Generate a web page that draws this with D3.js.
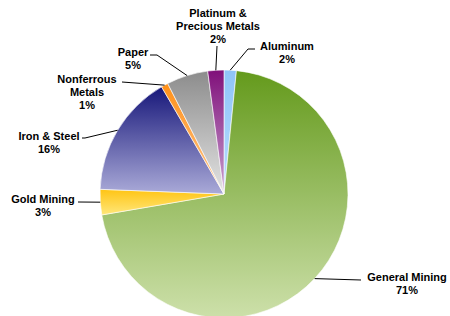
<!DOCTYPE html>
<html>
<head>
<meta charset="utf-8">
<script src="https://cdn.jsdelivr.net/npm/d3@7"></script>
<style>
  body { margin: 0; background: #fff; }
  svg text { font-family: "Liberation Sans", Arial, sans-serif; font-weight: bold; font-size: 11px; fill: #000; }
</style>
</head>
<body>
<div id="chart"></div>
<script>
// data, clockwise from 12 o'clock
const categories = ["Aluminum", "General Mining", "Gold Mining", "Iron & Steel", "Nonferrous Metals", "Paper", "Platinum & Precious Metals"];
const shares = [1.6, 70.7, 3.3, 16.0, 0.9, 5.4, 2.1];
const labelLines = [["Aluminum"], ["General Mining"], ["Gold Mining"], ["Iron & Steel"], ["Nonferrous", "Metals"], ["Paper"], ["Platinum &", "Precious Metals"]];

// gradient top / bottom colours per slice
const topColors = ["#8fc4f8", "#649a1c", "#ffc414", "#17177a", "#ff9018", "#8c8c8c", "#80107a"];
const bottomColors = ["#b8dcff", "#cde0aa", "#ffe77a", "#aaaad8", "#ffc890", "#e4e4e4", "#c8a0d0"];

// label layout: centre x, first baseline, leader end
const labelLayout = [
    { x: 287, y: 50, lx: 248, ly: 49, hx: 255 },
    { x: 407, y: 281, lx: 361, ly: 280 },
    { x: 43, y: 203, lx: 78, ly: 202 },
    { x: 49, y: 140, lx: 85, ly: 138, hx: 82 },
    { x: 87, y: 83, lx: 122, ly: 82 },
    { x: 133, y: 56, lx: 157, ly: 55, hx: 150 },
    { x: 218, y: 17, lx: 217, ly: 46 }
];

const width = 450;
const height = 316;
const cx = 224, cy = 194, radius = 124;
const lineH = 13;

const svg = d3.select("#chart")
    .append("svg")
    .attr("width", width)
    .attr("height", height);

const defs = svg.append("defs");
categories.forEach((c, i) => {
    const g = defs.append("linearGradient")
        .attr("id", "grad" + i)
        .attr("x1", 0).attr("y1", 0).attr("x2", 0).attr("y2", 1);
    g.append("stop").attr("offset", "0%").attr("stop-color", topColors[i]);
    g.append("stop").attr("offset", "100%").attr("stop-color", bottomColors[i]);
});

const pie = d3.pie().sort(null).value(d => d.value);
const arcs = pie(categories.map((c, i) => ({ name: c, value: shares[i], i })));

const arc = d3.arc().innerRadius(0).outerRadius(radius);

const g = svg.append("g").attr("transform", `translate(${cx},${cy})`);

g.selectAll("path")
    .data(arcs)
    .enter()
    .append("path")
    .attr("d", arc)
    .attr("fill", d => `url(#grad${d.data.i})`)
    .attr("stroke", "#fff")
    .attr("stroke-width", 0.6);

// leaders
arcs.forEach(d => {
    const mid = (d.startAngle + d.endAngle) / 2;
    const ex = cx + radius * Math.sin(mid);
    const ey = cy - radius * Math.cos(mid);
    const lay = labelLayout[d.data.i];
    const pts = [[ex, ey], [lay.lx, lay.ly]];
    if (lay.hx !== undefined) pts.push([lay.hx, lay.ly]);
    svg.append("path")
        .attr("d", d3.line()(pts))
        .attr("fill", "none")
        .attr("stroke", "#000")
        .attr("stroke-width", 1);
});

// labels
arcs.forEach(d => {
    const lay = labelLayout[d.data.i];
    const lines = labelLines[d.data.i].concat([Math.round(d.data.value) + "%"]);
    const t = svg.append("text")
        .attr("text-anchor", "middle")
        .attr("x", lay.x)
        .attr("y", lay.y);
    lines.forEach((ln, k) => {
        t.append("tspan")
            .attr("x", lay.x)
            .attr("dy", k === 0 ? 0 : lineH)
            .text(ln);
    });
});
</script>
</body>
</html>
